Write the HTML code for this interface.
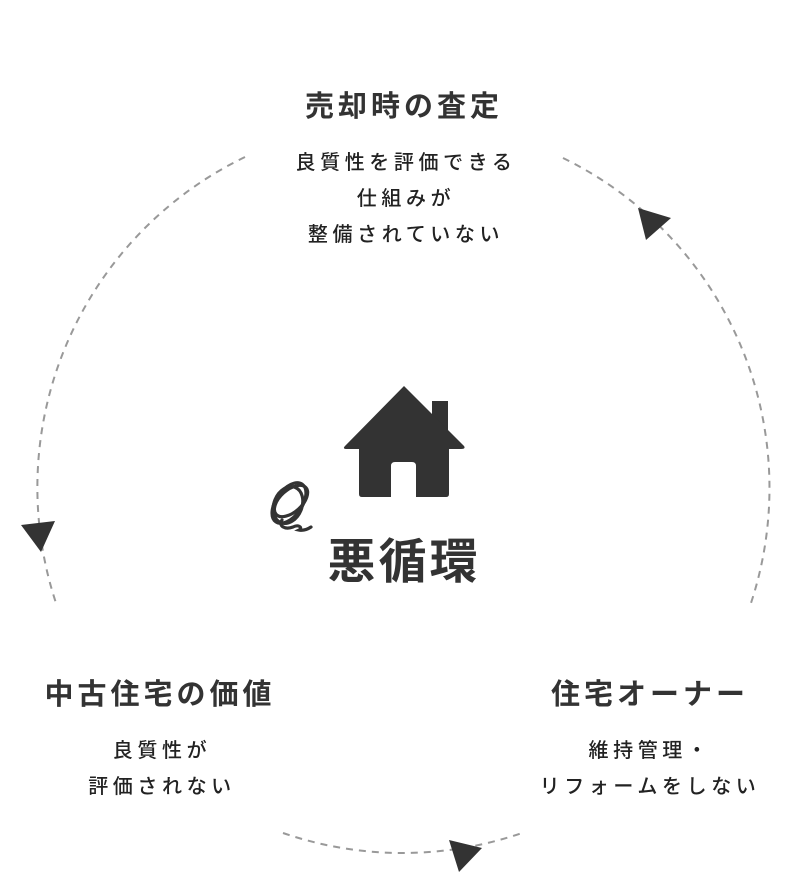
<!DOCTYPE html>
<html><head><meta charset="utf-8">
<style>
html,body{margin:0;padding:0;background:#fff;}
body{width:808px;height:890px;position:relative;overflow:hidden;font-family:"Liberation Sans","Noto Sans CJK JP",sans-serif;color:#333;}
.t{position:absolute;text-align:center;font-weight:bold;font-size:29px;letter-spacing:4px;white-space:nowrap;}
.s{position:absolute;text-align:center;font-size:20px;line-height:36px;letter-spacing:4.6px;white-space:nowrap;color:#222;font-weight:500;}
svg{position:absolute;left:0;top:0;}
</style></head><body>
<svg width="808" height="890" viewBox="0 0 808 890">
  <g fill="none" stroke="#999" stroke-width="2" stroke-dasharray="7 6">
    <path d="M245 157 A367 367 0 0 0 57 606"/>
    <path d="M563 158 A367 367 0 0 1 750 606"/>
    <path d="M283 833 A367 367 0 0 0 522 833"/>
  </g>
  <g fill="#333">
    <polygon points="21,525 55,521 41,552"/>
    <polygon points="638,208 671,218 646,240"/>
    <polygon points="449,840 482,848 459,872"/>
    <rect x="432" y="401" width="16" height="32"/>
    <path d="M404 386 L464 446 Q466 449 461 449 L449 449 L449 494 Q449 497 446 497 L416 497 L416 466 Q416 462 412 462 L395 462 Q391 462 391 466 L391 497 L362 497 Q359 497 359 494 L359 449 L347 449 Q342 449 345 446 Z"/>
  </g>
  <g fill="none" stroke="#333" stroke-width="3.2" stroke-linecap="round">
    <ellipse cx="289" cy="503" rx="13" ry="23" transform="rotate(35 289 503)"/>
    <ellipse cx="291" cy="501" rx="11" ry="20" transform="rotate(48 291 501)"/>
    <ellipse cx="288" cy="505" rx="14" ry="19" transform="rotate(22 288 505)"/>
    <path d="M282 520 C278 526 285 530 293 527 C299 524 303 528 299 530 C304 531 308 529 311 527"/>
  </g>
</svg>
<div class="t" style="left:0;width:808px;top:83px;">売却時の査定</div>
<div class="s" style="left:0;width:812px;top:145px;">良質性を評価できる<br>仕組みが<br>整備されていない</div>
<div class="t" style="left:-2px;width:324px;top:671px;">中古住宅の価値</div>
<div class="s" style="left:0;width:324px;top:733px;">良質性が<br>評価されない</div>
<div class="t" style="left:488px;width:324px;top:671px;">住宅オーナー</div>
<div class="s" style="left:488px;width:324px;top:733px;">維持管理・<br>リフォームをしない</div>
<div class="t" style="left:0;width:808px;top:522px;font-size:48px;letter-spacing:3px;">悪循環</div>
</body></html>
